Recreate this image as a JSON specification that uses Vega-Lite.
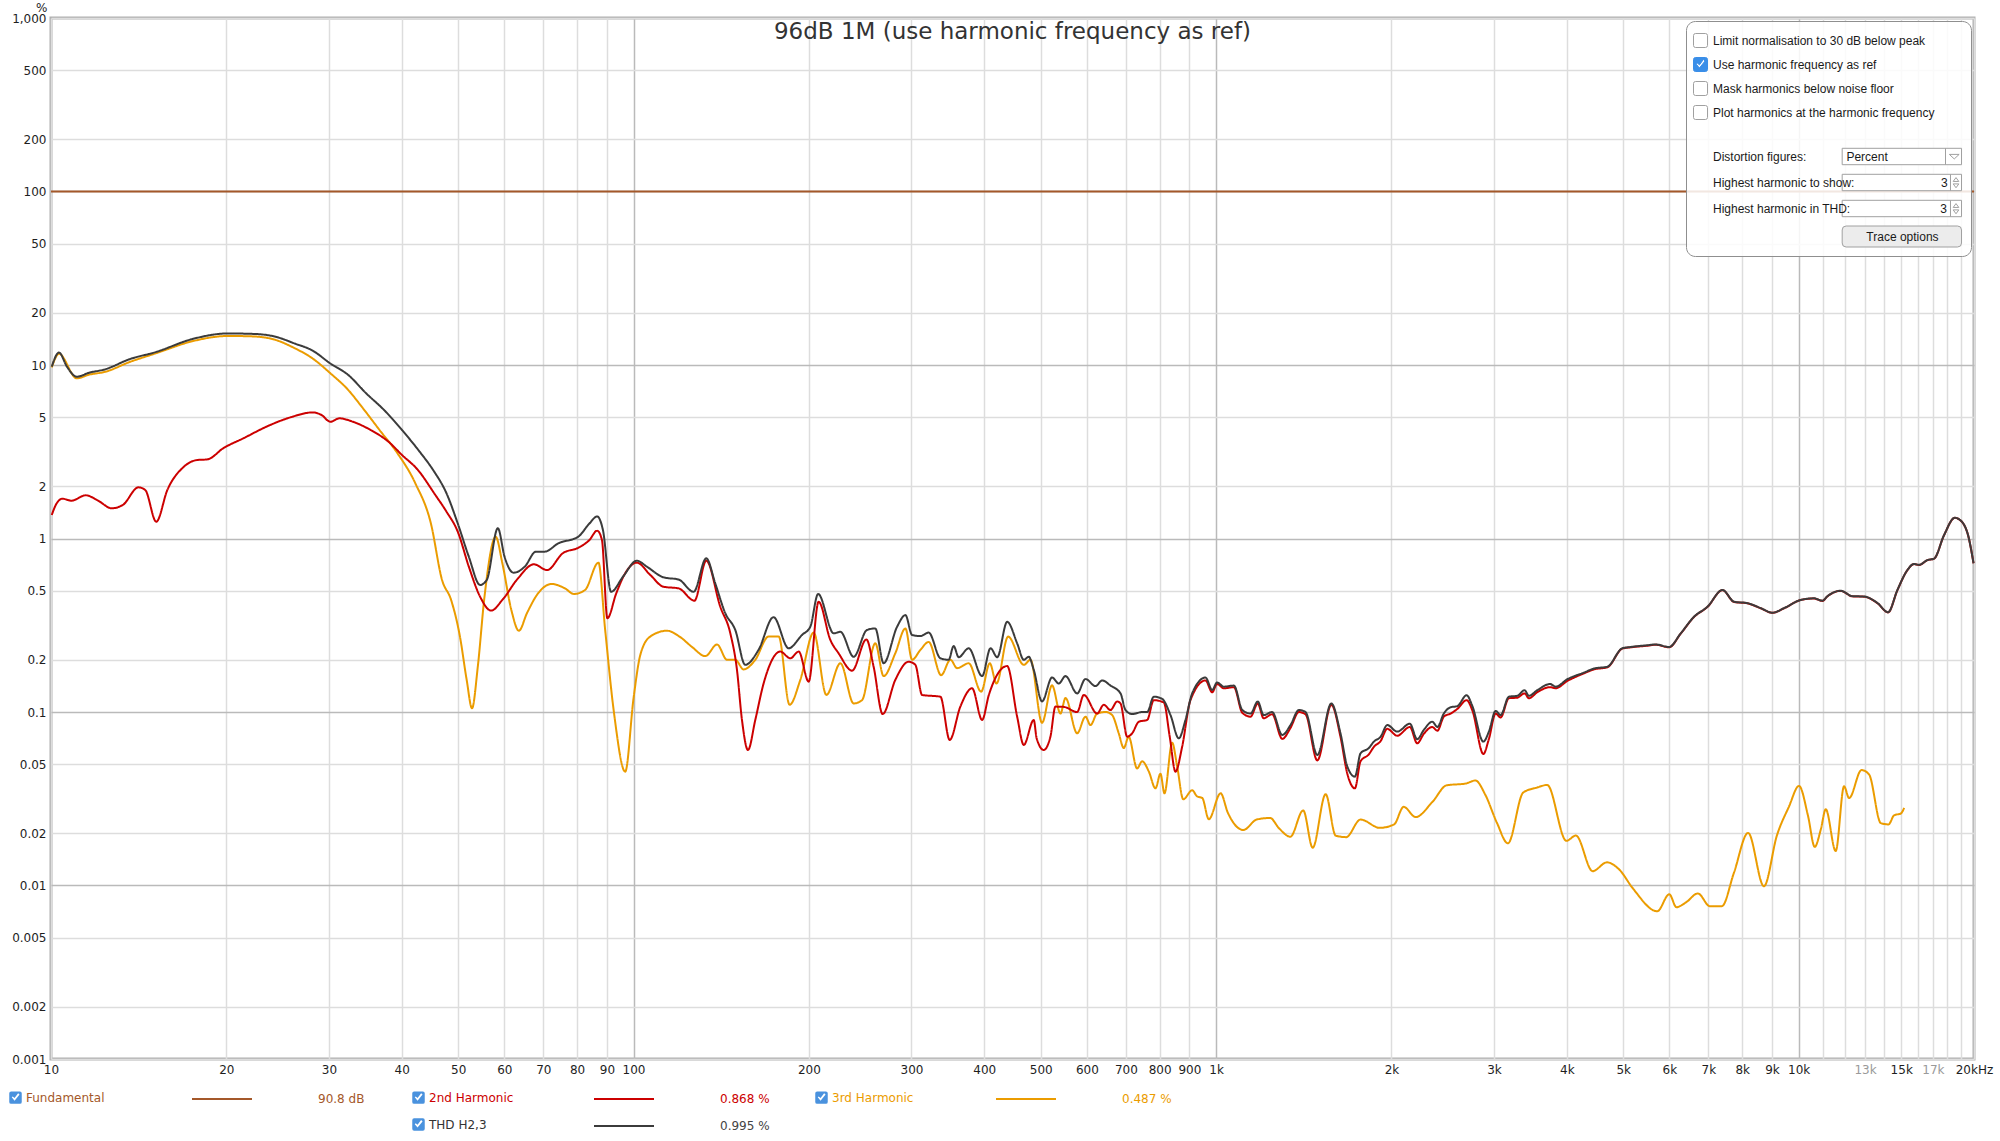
{
"$schema": "https://vega.github.io/schema/vega-lite/v6.json",
"width": 1923, "height": 1041,
"autosize": {"type": "none"},
"padding": {"left": 51, "top": 18, "right": 26, "bottom": 82},
"background": "#ffffff",
"title": {"text": "96dB 1M (use harmonic frequency as ref)", "font": "DejaVu Sans", "fontSize": 23, "fontWeight": "normal", "color": "#333333", "anchor": "middle", "offset": -21, "dy": 40, "baseline": "alphabetic"},
"data": {"values": [
{"series":"Fundamental","hz":10,"pct":100},{"series":"Fundamental","hz":20000,"pct":100},
{"series":"THD","hz":10.03,"pct":9.78},{"series":"THD","hz":10.32,"pct":11.8},{"series":"THD","hz":10.65,"pct":9.78},{"series":"THD","hz":11.07,"pct":8.56},{"series":"THD","hz":11.63,"pct":9.03},{"series":"THD","hz":12.38,"pct":9.44},{"series":"THD","hz":13.64,"pct":10.8},{"series":"THD","hz":15.16,"pct":11.9},{"series":"THD","hz":17.47,"pct":14.1},{"series":"THD","hz":20.12,"pct":15.2},{"series":"THD","hz":22.36,"pct":15.1},{"series":"THD","hz":24.2,"pct":14.6},{"series":"THD","hz":26.2,"pct":13.3},{"series":"THD","hz":28.13,"pct":12.1},{"series":"THD","hz":30.17,"pct":10.2},{"series":"THD","hz":32.39,"pct":8.75},{"series":"THD","hz":34.75,"pct":6.87},{"series":"THD","hz":37.31,"pct":5.5},{"series":"THD","hz":40.04,"pct":4.22},{"series":"THD","hz":42.95,"pct":3.16},{"series":"THD","hz":45.29,"pct":2.48},{"series":"THD","hz":47.75,"pct":1.82},{"series":"THD","hz":49.92,"pct":1.22},{"series":"THD","hz":52.15,"pct":0.785},{"series":"THD","hz":54.52,"pct":0.54},{"series":"THD","hz":55.98,"pct":0.577},{"series":"THD","hz":58.49,"pct":1.146},{"series":"THD","hz":60.06,"pct":0.785},{"series":"THD","hz":62.24,"pct":0.635},{"series":"THD","hz":65.04,"pct":0.688},{"series":"THD","hz":68.0,"pct":0.84},{"series":"THD","hz":70.42,"pct":0.84},{"series":"THD","hz":74.25,"pct":0.937},{"series":"THD","hz":80.4,"pct":1.026},{"series":"THD","hz":84.0,"pct":1.22},{"series":"THD","hz":86.6,"pct":1.34},{"series":"THD","hz":88.6,"pct":1.12},{"series":"THD","hz":91.5,"pct":0.493},{"series":"THD","hz":95.9,"pct":0.602},{"series":"THD","hz":101.3,"pct":0.745},{"series":"THD","hz":105.4,"pct":0.688},{"series":"THD","hz":112.6,"pct":0.597},{"series":"THD","hz":119.5,"pct":0.58},{"series":"THD","hz":126.8,"pct":0.493},{"series":"THD","hz":133.3,"pct":0.769},{"series":"THD","hz":138.1,"pct":0.552},{"series":"THD","hz":143.7,"pct":0.371},{"series":"THD","hz":149.5,"pct":0.297},{"series":"THD","hz":155.5,"pct":0.187},{"series":"THD","hz":163.9,"pct":0.228},{"series":"THD","hz":173.9,"pct":0.352},{"series":"THD","hz":184.6,"pct":0.233},{"series":"THD","hz":194.6,"pct":0.278},{"series":"THD","hz":201.1,"pct":0.31},{"series":"THD","hz":207.4,"pct":0.479},{"series":"THD","hz":220.6,"pct":0.284},{"series":"THD","hz":226.5,"pct":0.29},{"series":"THD","hz":238.7,"pct":0.208},{"series":"THD","hz":251.6,"pct":0.297},{"series":"THD","hz":260.0,"pct":0.303},{"series":"THD","hz":268.7,"pct":0.191},{"series":"THD","hz":283.4,"pct":0.31},{"series":"THD","hz":292.9,"pct":0.362},{"series":"THD","hz":300.7,"pct":0.278},{"series":"THD","hz":310.8,"pct":0.274},{"series":"THD","hz":321.1,"pct":0.287},{"series":"THD","hz":336.3,"pct":0.204},{"series":"THD","hz":347.5,"pct":0.2},{"series":"THD","hz":354.4,"pct":0.24},{"series":"THD","hz":361.5,"pct":0.207},{"series":"THD","hz":376.1,"pct":0.233},{"series":"THD","hz":396.6,"pct":0.161},{"series":"THD","hz":410.0,"pct":0.233},{"series":"THD","hz":421.0,"pct":0.207},{"series":"THD","hz":437.9,"pct":0.331},{"series":"THD","hz":455.5,"pct":0.249},{"series":"THD","hz":467.6,"pct":0.2},{"series":"THD","hz":476.9,"pct":0.208},{"series":"THD","hz":486.4,"pct":0.175},{"series":"THD","hz":502.6,"pct":0.115},{"series":"THD","hz":522.9,"pct":0.158},{"series":"THD","hz":537.0,"pct":0.146},{"series":"THD","hz":551.4,"pct":0.161},{"series":"THD","hz":577.5,"pct":0.128},{"series":"THD","hz":596.7,"pct":0.155},{"series":"THD","hz":620.8,"pct":0.141},{"series":"THD","hz":637.5,"pct":0.152},{"series":"THD","hz":658.8,"pct":0.142},{"series":"THD","hz":685.4,"pct":0.128},{"series":"THD","hz":699.0,"pct":0.1027},{"series":"THD","hz":717.7,"pct":0.0973},{"series":"THD","hz":746.7,"pct":0.1},{"series":"THD","hz":761.6,"pct":0.1},{"series":"THD","hz":781.7,"pct":0.1225},{"series":"THD","hz":808.1,"pct":0.119},{"series":"THD","hz":835.1,"pct":0.096},{"series":"THD","hz":862.9,"pct":0.0705},{"series":"THD","hz":886.0,"pct":0.09},{"series":"THD","hz":909.8,"pct":0.128},{"series":"THD","hz":959.0,"pct":0.158},{"series":"THD","hz":984.7,"pct":0.134},{"series":"THD","hz":1004,"pct":0.148},{"series":"THD","hz":1031,"pct":0.14},{"series":"THD","hz":1073,"pct":0.142},{"series":"THD","hz":1109,"pct":0.1027},{"series":"THD","hz":1146,"pct":0.098},{"series":"THD","hz":1179,"pct":0.115},{"series":"THD","hz":1207,"pct":0.096},{"series":"THD","hz":1248,"pct":0.1},{"series":"THD","hz":1299,"pct":0.0737},{"series":"THD","hz":1342,"pct":0.0841},{"series":"THD","hz":1387,"pct":0.1027},{"series":"THD","hz":1424,"pct":0.1},{"series":"THD","hz":1492,"pct":0.0565},{"series":"THD","hz":1577,"pct":0.112},{"series":"THD","hz":1635,"pct":0.0754},{"series":"THD","hz":1680,"pct":0.0484},{"series":"THD","hz":1731,"pct":0.0424},{"series":"THD","hz":1770,"pct":0.0578},{"series":"THD","hz":1829,"pct":0.062},{"series":"THD","hz":1866,"pct":0.0675},{"series":"THD","hz":1916,"pct":0.072},{"series":"THD","hz":1967,"pct":0.0841},{"series":"THD","hz":2046,"pct":0.0771},{"series":"THD","hz":2151,"pct":0.0856},{"series":"THD","hz":2214,"pct":0.0697},{"series":"THD","hz":2274,"pct":0.079},{"series":"THD","hz":2350,"pct":0.0879},{"series":"THD","hz":2398,"pct":0.082},{"series":"THD","hz":2460,"pct":0.098},{"series":"THD","hz":2527,"pct":0.1065},{"series":"THD","hz":2594,"pct":0.108},{"series":"THD","hz":2692,"pct":0.125},{"series":"THD","hz":2754,"pct":0.108},{"series":"THD","hz":2876,"pct":0.0675},{"series":"THD","hz":2940,"pct":0.0771},{"series":"THD","hz":3019,"pct":0.1015},{"series":"THD","hz":3079,"pct":0.096},{"series":"THD","hz":3181,"pct":0.1225},{"series":"THD","hz":3289,"pct":0.124},{"series":"THD","hz":3385,"pct":0.1335},{"series":"THD","hz":3443,"pct":0.124},{"series":"THD","hz":3559,"pct":0.1335},{"series":"THD","hz":3743,"pct":0.145},{"series":"THD","hz":3828,"pct":0.14},{"series":"THD","hz":4009,"pct":0.1545},{"series":"THD","hz":4280,"pct":0.1687},{"series":"THD","hz":4453,"pct":0.178},{"series":"THD","hz":4695,"pct":0.1825},{"series":"THD","hz":4982,"pct":0.233},{"series":"THD","hz":5148,"pct":0.237},{"series":"THD","hz":5499,"pct":0.2425},{"series":"THD","hz":5683,"pct":0.245},{"series":"THD","hz":5991,"pct":0.237},{"series":"THD","hz":6275,"pct":0.284},{"series":"THD","hz":6614,"pct":0.354},{"series":"THD","hz":6973,"pct":0.404},{"series":"THD","hz":7401,"pct":0.505},{"series":"THD","hz":7748,"pct":0.432},{"series":"THD","hz":8170,"pct":0.424},{"series":"THD","hz":8608,"pct":0.397},{"series":"THD","hz":9016,"pct":0.3735},{"series":"THD","hz":9439,"pct":0.397},{"series":"THD","hz":10080,"pct":0.4425},{"series":"THD","hz":10627,"pct":0.452},{"series":"THD","hz":10985,"pct":0.438},{"series":"THD","hz":11205,"pct":0.465},{"series":"THD","hz":11808,"pct":0.5},{"series":"THD","hz":12370,"pct":0.465},{"series":"THD","hz":12950,"pct":0.463},{"series":"THD","hz":13653,"pct":0.425},{"series":"THD","hz":14239,"pct":0.376},{"series":"THD","hz":14777,"pct":0.505},{"series":"THD","hz":15371,"pct":0.658},{"series":"THD","hz":15780,"pct":0.713},{"series":"THD","hz":16096,"pct":0.705},{"series":"THD","hz":16638,"pct":0.751},{"series":"THD","hz":17080,"pct":0.766},{"series":"THD","hz":17770,"pct":1.047},{"series":"THD","hz":18540,"pct":1.317},{"series":"THD","hz":18855,"pct":1.29},{"series":"THD","hz":19495,"pct":1.072},{"series":"THD","hz":19963,"pct":0.72},
{"series":"2nd Harmonic","hz":10.03,"pct":1.366},{"series":"2nd Harmonic","hz":10.19,"pct":1.56},{"series":"2nd Harmonic","hz":10.46,"pct":1.696},{"series":"2nd Harmonic","hz":10.84,"pct":1.652},{"series":"2nd Harmonic","hz":11.47,"pct":1.774},{"series":"2nd Harmonic","hz":12.05,"pct":1.652},{"series":"2nd Harmonic","hz":12.71,"pct":1.493},{"series":"2nd Harmonic","hz":13.28,"pct":1.56},{"series":"2nd Harmonic","hz":14.13,"pct":1.972},{"series":"2nd Harmonic","hz":14.51,"pct":1.905},{"series":"2nd Harmonic","hz":15.16,"pct":1.25},{"series":"2nd Harmonic","hz":15.84,"pct":1.905},{"series":"2nd Harmonic","hz":16.86,"pct":2.57},{"series":"2nd Harmonic","hz":17.77,"pct":2.83},{"series":"2nd Harmonic","hz":18.57,"pct":2.86},{"series":"2nd Harmonic","hz":19.75,"pct":3.31},{"series":"2nd Harmonic","hz":21.39,"pct":3.78},{"series":"2nd Harmonic","hz":23.57,"pct":4.45},{"series":"2nd Harmonic","hz":25.75,"pct":4.99},{"series":"2nd Harmonic","hz":28.13,"pct":5.33},{"series":"2nd Harmonic","hz":29.13,"pct":5.15},{"series":"2nd Harmonic","hz":30.17,"pct":4.71},{"series":"2nd Harmonic","hz":31.26,"pct":4.93},{"series":"2nd Harmonic","hz":32.97,"pct":4.71},{"series":"2nd Harmonic","hz":35.38,"pct":4.22},{"series":"2nd Harmonic","hz":37.97,"pct":3.61},{"series":"2nd Harmonic","hz":40.04,"pct":3.03},{"series":"2nd Harmonic","hz":42.57,"pct":2.5},{"series":"2nd Harmonic","hz":45.69,"pct":1.78},{"series":"2nd Harmonic","hz":47.75,"pct":1.427},{"series":"2nd Harmonic","hz":49.92,"pct":1.094},{"series":"2nd Harmonic","hz":52.15,"pct":0.688},{"series":"2nd Harmonic","hz":54.52,"pct":0.462},{"series":"2nd Harmonic","hz":56.96,"pct":0.384},{"series":"2nd Harmonic","hz":59.54,"pct":0.4425},{"series":"2nd Harmonic","hz":63.35,"pct":0.59},{"series":"2nd Harmonic","hz":67.42,"pct":0.71},{"series":"2nd Harmonic","hz":71.06,"pct":0.658},{"series":"2nd Harmonic","hz":75.59,"pct":0.822},{"series":"2nd Harmonic","hz":80.4,"pct":0.885},{"series":"2nd Harmonic","hz":84.0,"pct":0.98},{"series":"2nd Harmonic","hz":86.6,"pct":1.11},{"series":"2nd Harmonic","hz":88.26,"pct":0.98},{"series":"2nd Harmonic","hz":90.16,"pct":0.347},{"series":"2nd Harmonic","hz":93.39,"pct":0.483},{"series":"2nd Harmonic","hz":96.76,"pct":0.631},{"series":"2nd Harmonic","hz":101.3,"pct":0.726},{"series":"2nd Harmonic","hz":106.8,"pct":0.617},{"series":"2nd Harmonic","hz":112.6,"pct":0.527},{"series":"2nd Harmonic","hz":119.5,"pct":0.516},{"series":"2nd Harmonic","hz":127.2,"pct":0.438},{"series":"2nd Harmonic","hz":133.3,"pct":0.745},{"series":"2nd Harmonic","hz":140.9,"pct":0.404},{"series":"2nd Harmonic","hz":146.6,"pct":0.284},{"series":"2nd Harmonic","hz":150.5,"pct":0.175},{"series":"2nd Harmonic","hz":153.5,"pct":0.09},{"series":"2nd Harmonic","hz":157.2,"pct":0.0604},{"series":"2nd Harmonic","hz":161.8,"pct":0.09},{"series":"2nd Harmonic","hz":167.2,"pct":0.146},{"series":"2nd Harmonic","hz":178.6,"pct":0.223},{"series":"2nd Harmonic","hz":185.8,"pct":0.204},{"series":"2nd Harmonic","hz":192.1,"pct":0.223},{"series":"2nd Harmonic","hz":199.8,"pct":0.1496},{"series":"2nd Harmonic","hz":207.8,"pct":0.432},{"series":"2nd Harmonic","hz":217.7,"pct":0.26},{"series":"2nd Harmonic","hz":224.9,"pct":0.218},{"series":"2nd Harmonic","hz":237.2,"pct":0.173},{"series":"2nd Harmonic","hz":251.0,"pct":0.262},{"series":"2nd Harmonic","hz":258.3,"pct":0.1824},{"series":"2nd Harmonic","hz":267.7,"pct":0.0973},{"series":"2nd Harmonic","hz":281.4,"pct":0.153},{"series":"2nd Harmonic","hz":296.6,"pct":0.195},{"series":"2nd Harmonic","hz":304.6,"pct":0.187},{"series":"2nd Harmonic","hz":312.8,"pct":0.1254},{"series":"2nd Harmonic","hz":336.3,"pct":0.1225},{"series":"2nd Harmonic","hz":348.9,"pct":0.069},{"series":"2nd Harmonic","hz":363.9,"pct":0.1074},{"series":"2nd Harmonic","hz":381.2,"pct":0.137},{"series":"2nd Harmonic","hz":396.6,"pct":0.09},{"series":"2nd Harmonic","hz":407.3,"pct":0.1254},{"series":"2nd Harmonic","hz":437.9,"pct":0.184},{"series":"2nd Harmonic","hz":455.5,"pct":0.094},{"series":"2nd Harmonic","hz":467.6,"pct":0.0646},{"series":"2nd Harmonic","hz":486.4,"pct":0.09},{"series":"2nd Harmonic","hz":492.0,"pct":0.0705},{"series":"2nd Harmonic","hz":505.9,"pct":0.0604},{"series":"2nd Harmonic","hz":519.5,"pct":0.072},{"series":"2nd Harmonic","hz":529.9,"pct":0.1074},{"series":"2nd Harmonic","hz":547.7,"pct":0.107},{"series":"2nd Harmonic","hz":577.5,"pct":0.1},{"series":"2nd Harmonic","hz":592.8,"pct":0.1254},{"series":"2nd Harmonic","hz":624.9,"pct":0.098},{"series":"2nd Harmonic","hz":641.5,"pct":0.11},{"series":"2nd Harmonic","hz":658.8,"pct":0.1027},{"series":"2nd Harmonic","hz":676.5,"pct":0.115},{"series":"2nd Harmonic","hz":685.4,"pct":0.112},{"series":"2nd Harmonic","hz":703.7,"pct":0.072},{"series":"2nd Harmonic","hz":717.7,"pct":0.0754},{"series":"2nd Harmonic","hz":736.9,"pct":0.0879},{"series":"2nd Harmonic","hz":761.6,"pct":0.09},{"series":"2nd Harmonic","hz":781.7,"pct":0.117},{"series":"2nd Harmonic","hz":813.3,"pct":0.1135},{"series":"2nd Harmonic","hz":832.6,"pct":0.072},{"series":"2nd Harmonic","hz":851.6,"pct":0.0453},{"series":"2nd Harmonic","hz":874.4,"pct":0.063},{"series":"2nd Harmonic","hz":903.6,"pct":0.117},{"series":"2nd Harmonic","hz":959,"pct":0.152},{"series":"2nd Harmonic","hz":984.7,"pct":0.13},{"series":"2nd Harmonic","hz":1004,"pct":0.145},{"series":"2nd Harmonic","hz":1031,"pct":0.137},{"series":"2nd Harmonic","hz":1073,"pct":0.139},{"series":"2nd Harmonic","hz":1109,"pct":0.099},{"series":"2nd Harmonic","hz":1146,"pct":0.094},{"series":"2nd Harmonic","hz":1179,"pct":0.112},{"series":"2nd Harmonic","hz":1207,"pct":0.092},{"series":"2nd Harmonic","hz":1248,"pct":0.097},{"series":"2nd Harmonic","hz":1299,"pct":0.07},{"series":"2nd Harmonic","hz":1342,"pct":0.081},{"series":"2nd Harmonic","hz":1387,"pct":0.1},{"series":"2nd Harmonic","hz":1424,"pct":0.097},{"series":"2nd Harmonic","hz":1492,"pct":0.0526},{"series":"2nd Harmonic","hz":1577,"pct":0.11},{"series":"2nd Harmonic","hz":1635,"pct":0.072},{"series":"2nd Harmonic","hz":1680,"pct":0.044},{"series":"2nd Harmonic","hz":1731,"pct":0.0363},{"series":"2nd Harmonic","hz":1770,"pct":0.052},{"series":"2nd Harmonic","hz":1829,"pct":0.057},{"series":"2nd Harmonic","hz":1866,"pct":0.063},{"series":"2nd Harmonic","hz":1916,"pct":0.068},{"series":"2nd Harmonic","hz":1967,"pct":0.08},{"series":"2nd Harmonic","hz":2046,"pct":0.073},{"series":"2nd Harmonic","hz":2151,"pct":0.082},{"series":"2nd Harmonic","hz":2214,"pct":0.066},{"series":"2nd Harmonic","hz":2274,"pct":0.075},{"series":"2nd Harmonic","hz":2350,"pct":0.082},{"series":"2nd Harmonic","hz":2398,"pct":0.078},{"series":"2nd Harmonic","hz":2460,"pct":0.094},{"series":"2nd Harmonic","hz":2527,"pct":0.098},{"series":"2nd Harmonic","hz":2594,"pct":0.104},{"series":"2nd Harmonic","hz":2692,"pct":0.117},{"series":"2nd Harmonic","hz":2754,"pct":0.102},{"series":"2nd Harmonic","hz":2876,"pct":0.0573},{"series":"2nd Harmonic","hz":2940,"pct":0.07},{"series":"2nd Harmonic","hz":3019,"pct":0.098},{"series":"2nd Harmonic","hz":3079,"pct":0.093},{"series":"2nd Harmonic","hz":3181,"pct":0.12},{"series":"2nd Harmonic","hz":3289,"pct":0.121},{"series":"2nd Harmonic","hz":3385,"pct":0.128},{"series":"2nd Harmonic","hz":3443,"pct":0.12},{"series":"2nd Harmonic","hz":3559,"pct":0.13},{"series":"2nd Harmonic","hz":3743,"pct":0.139},{"series":"2nd Harmonic","hz":3828,"pct":0.137},{"series":"2nd Harmonic","hz":4009,"pct":0.151},{"series":"2nd Harmonic","hz":4280,"pct":0.167},{"series":"2nd Harmonic","hz":4453,"pct":0.176},{"series":"2nd Harmonic","hz":4695,"pct":0.181},{"series":"2nd Harmonic","hz":4982,"pct":0.232},{"series":"2nd Harmonic","hz":5148,"pct":0.236},{"series":"2nd Harmonic","hz":5499,"pct":0.241},{"series":"2nd Harmonic","hz":5683,"pct":0.244},{"series":"2nd Harmonic","hz":5991,"pct":0.236},{"series":"2nd Harmonic","hz":6275,"pct":0.283},{"series":"2nd Harmonic","hz":6614,"pct":0.353},{"series":"2nd Harmonic","hz":6973,"pct":0.403},{"series":"2nd Harmonic","hz":7401,"pct":0.504},{"series":"2nd Harmonic","hz":7748,"pct":0.431},{"series":"2nd Harmonic","hz":8170,"pct":0.423},{"series":"2nd Harmonic","hz":8608,"pct":0.396},{"series":"2nd Harmonic","hz":9016,"pct":0.373},{"series":"2nd Harmonic","hz":9439,"pct":0.396},{"series":"2nd Harmonic","hz":10080,"pct":0.442},{"series":"2nd Harmonic","hz":10627,"pct":0.451},{"series":"2nd Harmonic","hz":10985,"pct":0.437},{"series":"2nd Harmonic","hz":11205,"pct":0.464},{"series":"2nd Harmonic","hz":11808,"pct":0.499},{"series":"2nd Harmonic","hz":12370,"pct":0.464},{"series":"2nd Harmonic","hz":12950,"pct":0.462},{"series":"2nd Harmonic","hz":13653,"pct":0.424},{"series":"2nd Harmonic","hz":14239,"pct":0.375},{"series":"2nd Harmonic","hz":14777,"pct":0.504},{"series":"2nd Harmonic","hz":15371,"pct":0.657},{"series":"2nd Harmonic","hz":15780,"pct":0.712},{"series":"2nd Harmonic","hz":16096,"pct":0.704},{"series":"2nd Harmonic","hz":16638,"pct":0.75},{"series":"2nd Harmonic","hz":17080,"pct":0.765},{"series":"2nd Harmonic","hz":17770,"pct":1.046},{"series":"2nd Harmonic","hz":18540,"pct":1.316},{"series":"2nd Harmonic","hz":18855,"pct":1.289},{"series":"2nd Harmonic","hz":19495,"pct":1.071},{"series":"2nd Harmonic","hz":19963,"pct":0.72},
{"series":"3rd Harmonic","hz":10.03,"pct":9.7},{"series":"3rd Harmonic","hz":10.32,"pct":11.6},{"series":"3rd Harmonic","hz":11.07,"pct":8.38},{"series":"3rd Harmonic","hz":11.63,"pct":8.8},{"series":"3rd Harmonic","hz":12.38,"pct":9.13},{"series":"3rd Harmonic","hz":13.64,"pct":10.4},{"series":"3rd Harmonic","hz":15.16,"pct":11.7},{"series":"3rd Harmonic","hz":17.47,"pct":13.7},{"series":"3rd Harmonic","hz":20.12,"pct":14.7},{"series":"3rd Harmonic","hz":22.36,"pct":14.6},{"series":"3rd Harmonic","hz":24.2,"pct":14.0},{"series":"3rd Harmonic","hz":26.2,"pct":12.5},{"series":"3rd Harmonic","hz":28.13,"pct":10.9},{"series":"3rd Harmonic","hz":30.17,"pct":8.96},{"series":"3rd Harmonic","hz":32.39,"pct":7.17},{"series":"3rd Harmonic","hz":34.15,"pct":5.75},{"series":"3rd Harmonic","hz":36.64,"pct":4.22},{"series":"3rd Harmonic","hz":39.33,"pct":3.1},{"series":"3rd Harmonic","hz":42.21,"pct":2.08},{"series":"3rd Harmonic","hz":44.89,"pct":1.22},{"series":"3rd Harmonic","hz":46.91,"pct":0.577},{"series":"3rd Harmonic","hz":48.62,"pct":0.4425},{"series":"3rd Harmonic","hz":50.35,"pct":0.272},{"series":"3rd Harmonic","hz":51.71,"pct":0.153},{"series":"3rd Harmonic","hz":52.81,"pct":0.105},{"series":"3rd Harmonic","hz":54.03,"pct":0.1824},{"series":"3rd Harmonic","hz":55.48,"pct":0.462},{"series":"3rd Harmonic","hz":58.0,"pct":1.023},{"series":"3rd Harmonic","hz":59.54,"pct":0.72},{"series":"3rd Harmonic","hz":61.69,"pct":0.3873},{"series":"3rd Harmonic","hz":63.55,"pct":0.294},{"series":"3rd Harmonic","hz":65.61,"pct":0.371},{"series":"3rd Harmonic","hz":68.57,"pct":0.483},{"series":"3rd Harmonic","hz":72.31,"pct":0.547},{"series":"3rd Harmonic","hz":76.25,"pct":0.516},{"series":"3rd Harmonic","hz":78.98,"pct":0.479},{"series":"3rd Harmonic","hz":82.55,"pct":0.505},{"series":"3rd Harmonic","hz":87.05,"pct":0.726},{"series":"3rd Harmonic","hz":89.39,"pct":0.297},{"series":"3rd Harmonic","hz":92.58,"pct":0.0984},{"series":"3rd Harmonic","hz":96.76,"pct":0.0453},{"series":"3rd Harmonic","hz":100.0,"pct":0.12},{"series":"3rd Harmonic","hz":102.7,"pct":0.213},{"series":"3rd Harmonic","hz":106.8,"pct":0.272},{"series":"3rd Harmonic","hz":114.1,"pct":0.294},{"series":"3rd Harmonic","hz":120.3,"pct":0.27},{"series":"3rd Harmonic","hz":126.0,"pct":0.237},{"series":"3rd Harmonic","hz":132.8,"pct":0.21},{"series":"3rd Harmonic","hz":139.1,"pct":0.245},{"series":"3rd Harmonic","hz":144.7,"pct":0.2},{"series":"3rd Harmonic","hz":149.5,"pct":0.2},{"series":"3rd Harmonic","hz":154.5,"pct":0.176},{"series":"3rd Harmonic","hz":161.8,"pct":0.2},{"series":"3rd Harmonic","hz":170.5,"pct":0.272},{"series":"3rd Harmonic","hz":177.5,"pct":0.272},{"series":"3rd Harmonic","hz":185.3,"pct":0.11},{"series":"3rd Harmonic","hz":193.3,"pct":0.153},{"series":"3rd Harmonic","hz":203.8,"pct":0.287},{"series":"3rd Harmonic","hz":214.3,"pct":0.1254},{"series":"3rd Harmonic","hz":226.5,"pct":0.191},{"series":"3rd Harmonic","hz":238.7,"pct":0.112},{"series":"3rd Harmonic","hz":246.7,"pct":0.117},{"series":"3rd Harmonic","hz":260.0,"pct":0.249},{"series":"3rd Harmonic","hz":268.7,"pct":0.161},{"series":"3rd Harmonic","hz":281.4,"pct":0.218},{"series":"3rd Harmonic","hz":292.9,"pct":0.303},{"series":"3rd Harmonic","hz":300.7,"pct":0.2},{"series":"3rd Harmonic","hz":310.8,"pct":0.228},{"series":"3rd Harmonic","hz":321.1,"pct":0.2535},{"series":"3rd Harmonic","hz":337.3,"pct":0.163},{"series":"3rd Harmonic","hz":349.9,"pct":0.2},{"series":"3rd Harmonic","hz":359.3,"pct":0.179},{"series":"3rd Harmonic","hz":376.1,"pct":0.191},{"series":"3rd Harmonic","hz":395.1,"pct":0.131},{"series":"3rd Harmonic","hz":408.8,"pct":0.191},{"series":"3rd Harmonic","hz":419.8,"pct":0.146},{"series":"3rd Harmonic","hz":439.5,"pct":0.272},{"series":"3rd Harmonic","hz":467.6,"pct":0.187},{"series":"3rd Harmonic","hz":480.2,"pct":0.2},{"series":"3rd Harmonic","hz":502.6,"pct":0.0867},{"series":"3rd Harmonic","hz":522.9,"pct":0.1425},{"series":"3rd Harmonic","hz":540.6,"pct":0.098},{"series":"3rd Harmonic","hz":551.4,"pct":0.1204},{"series":"3rd Harmonic","hz":577.5,"pct":0.0754},{"series":"3rd Harmonic","hz":596.7,"pct":0.094},{"series":"3rd Harmonic","hz":608.6,"pct":0.0841},{"series":"3rd Harmonic","hz":624.9,"pct":0.098},{"series":"3rd Harmonic","hz":646.8,"pct":0.1},{"series":"3rd Harmonic","hz":663.1,"pct":0.096},{"series":"3rd Harmonic","hz":680.6,"pct":0.0754},{"series":"3rd Harmonic","hz":694.3,"pct":0.062},{"series":"3rd Harmonic","hz":707.9,"pct":0.072},{"series":"3rd Harmonic","hz":731.8,"pct":0.0473},{"series":"3rd Harmonic","hz":746.7,"pct":0.052},{"series":"3rd Harmonic","hz":766.3,"pct":0.0455},{"series":"3rd Harmonic","hz":787.0,"pct":0.0363},{"series":"3rd Harmonic","hz":802.6,"pct":0.0441},{"series":"3rd Harmonic","hz":815.4,"pct":0.034},{"series":"3rd Harmonic","hz":840.6,"pct":0.0665},{"series":"3rd Harmonic","hz":857.5,"pct":0.0484},{"series":"3rd Harmonic","hz":878.3,"pct":0.0314},{"series":"3rd Harmonic","hz":909.8,"pct":0.0354},{"series":"3rd Harmonic","hz":928.0,"pct":0.0326},{"series":"3rd Harmonic","hz":946.5,"pct":0.032},{"series":"3rd Harmonic","hz":971.6,"pct":0.0241},{"series":"3rd Harmonic","hz":1018,"pct":0.034},{"series":"3rd Harmonic","hz":1047,"pct":0.0264},{"series":"3rd Harmonic","hz":1114,"pct":0.0209},{"series":"3rd Harmonic","hz":1174,"pct":0.024},{"series":"3rd Harmonic","hz":1238,"pct":0.0245},{"series":"3rd Harmonic","hz":1282,"pct":0.0214},{"series":"3rd Harmonic","hz":1341,"pct":0.0191},{"series":"3rd Harmonic","hz":1411,"pct":0.0271},{"series":"3rd Harmonic","hz":1465,"pct":0.0165},{"series":"3rd Harmonic","hz":1542,"pct":0.0336},{"series":"3rd Harmonic","hz":1604,"pct":0.0194},{"series":"3rd Harmonic","hz":1672,"pct":0.019},{"series":"3rd Harmonic","hz":1770,"pct":0.024},{"series":"3rd Harmonic","hz":1909,"pct":0.0215},{"series":"3rd Harmonic","hz":2021,"pct":0.0225},{"series":"3rd Harmonic","hz":2099,"pct":0.0284},{"series":"3rd Harmonic","hz":2200,"pct":0.0248},{"series":"3rd Harmonic","hz":2351,"pct":0.0303},{"series":"3rd Harmonic","hz":2488,"pct":0.0378},{"series":"3rd Harmonic","hz":2683,"pct":0.0387},{"series":"3rd Harmonic","hz":2787,"pct":0.0403},{"series":"3rd Harmonic","hz":2895,"pct":0.0336},{"series":"3rd Harmonic","hz":3034,"pct":0.023},{"series":"3rd Harmonic","hz":3169,"pct":0.0175},{"series":"3rd Harmonic","hz":3366,"pct":0.0343},{"series":"3rd Harmonic","hz":3564,"pct":0.0368},{"series":"3rd Harmonic","hz":3701,"pct":0.038},{"series":"3rd Harmonic","hz":3993,"pct":0.0181},{"series":"3rd Harmonic","hz":4146,"pct":0.0194},{"series":"3rd Harmonic","hz":4430,"pct":0.0121},{"series":"3rd Harmonic","hz":4688,"pct":0.0136},{"series":"3rd Harmonic","hz":4916,"pct":0.0124},{"series":"3rd Harmonic","hz":5201,"pct":0.00956},{"series":"3rd Harmonic","hz":5718,"pct":0.0071},{"series":"3rd Harmonic","hz":5997,"pct":0.0089},{"series":"3rd Harmonic","hz":6169,"pct":0.0075},{"series":"3rd Harmonic","hz":6409,"pct":0.008},{"series":"3rd Harmonic","hz":6714,"pct":0.009},{"series":"3rd Harmonic","hz":7042,"pct":0.0076},{"series":"3rd Harmonic","hz":7382,"pct":0.0076},{"series":"3rd Harmonic","hz":7741,"pct":0.0118},{"series":"3rd Harmonic","hz":8190,"pct":0.0201},{"series":"3rd Harmonic","hz":8718,"pct":0.0099},{"series":"3rd Harmonic","hz":9176,"pct":0.0194},{"series":"3rd Harmonic","hz":9621,"pct":0.0284},{"series":"3rd Harmonic","hz":10016,"pct":0.0375},{"series":"3rd Harmonic","hz":10375,"pct":0.0253},{"series":"3rd Harmonic","hz":10658,"pct":0.0167},{"series":"3rd Harmonic","hz":10914,"pct":0.021},{"series":"3rd Harmonic","hz":11132,"pct":0.0275},{"series":"3rd Harmonic","hz":11578,"pct":0.0158},{"series":"3rd Harmonic","hz":11967,"pct":0.0373},{"series":"3rd Harmonic","hz":12207,"pct":0.0319},{"series":"3rd Harmonic","hz":12823,"pct":0.0463},{"series":"3rd Harmonic","hz":13212,"pct":0.0436},{"series":"3rd Harmonic","hz":13836,"pct":0.0229},{"series":"3rd Harmonic","hz":14266,"pct":0.0225},{"series":"3rd Harmonic","hz":14585,"pct":0.0254},{"series":"3rd Harmonic","hz":14977,"pct":0.026},{"series":"3rd Harmonic","hz":15175,"pct":0.028}
]},
"layer": [
{
"encoding": {
"x": {"field": "hz", "type": "quantitative", "scale": {"type": "log", "domain": [10, 20000], "nice": false},
 "axis": {"values": [10,20,30,40,50,60,70,80,90,100,200,300,400,500,600,700,800,900,1000,2000,3000,4000,5000,6000,7000,8000,9000,10000,11000,12000,13000,14000,15000,16000,17000,18000,19000,20000],
  "labelExpr": "datum.value >= 20000 ? '20kHz' : datum.value >= 1000 ? ((datum.value == 11000 || datum.value == 12000 || datum.value == 14000 || datum.value == 16000 || datum.value == 18000 || datum.value == 19000) ? '' : (datum.value / 1000) + 'k') : '' + datum.value",
  "labelPadding": 5, "title": null,
  "labelColor": {"condition": {"test": "datum.value == 13000 || datum.value == 17000", "value": "#9a9a9a"}, "value": "#1e1e1e"},
  "gridColor": {"condition": {"test": "datum.value == 100 || datum.value == 1000 || datum.value == 10000", "value": "#bababa"}, "value": "#dddddd"}}},
"y": {"field": "pct", "type": "quantitative", "scale": {"type": "log", "domain": [0.001, 1000], "nice": false},
 "axis": {"values": [0.001,0.002,0.005,0.01,0.02,0.05,0.1,0.2,0.5,1,2,5,10,20,50,100,200,500,1000],
  "labelExpr": "format(datum.value, ',')", "labelPadding": 5,
  "title": "%", "titleAngle": 0, "titleAlign": "right", "titleBaseline": "middle", "titleX": -4, "titleY": -11, "titleFont": "DejaVu Sans", "titleFontSize": 12, "titleFontWeight": "normal", "titleColor": "#1e1e1e",
  "gridColor": {"condition": {"test": "datum.value == 0.01 || datum.value == 0.1 || datum.value == 1 || datum.value == 10 || datum.value == 100", "value": "#bababa"}, "value": "#dddddd"}}},
"color": {"field": "series", "type": "nominal",
 "scale": {"domain": ["Fundamental", "2nd Harmonic", "3rd Harmonic", " ", "THD"], "range": ["#a4582a", "#cc0000", "#eb9c00", "#ffffff", "#3b3b3b"]},
 "legend": {"orient": "none", "legendX": 140, "legendY": 1074, "title": null, "direction": "horizontal", "columns": 3, "gridAlign": "all", "columnPadding": 222, "rowPadding": 14, "padding": 0,
  "symbolType": "M-1,0H9", "symbolSize": 144, "symbolStrokeWidth": 2, "symbolFillColor": "transparent", "labelOffset": 113, "labelFont": "DejaVu Sans", "labelFontSize": 12, "labelLimit": 300,
  "labelColor": {"expr": "datum.value == 'THD' ? '#444444' : scale('color', datum.value)"},
  "labelExpr": "datum.label == 'Fundamental' ? '90.8 dB' : datum.label == '2nd Harmonic' ? '0.868 %' : datum.label == '3rd Harmonic' ? '0.487 %' : datum.label == 'THD' ? '0.995 %' : ''"}},
"strokeDash": {"field": "series", "type": "nominal",
 "scale": {"domain": ["Fundamental", "2nd Harmonic", "3rd Harmonic", "  ", "THD"], "range": [[1,0],[1,0],[1,0],[1,0],[1,0]]},
 "legend": {"orient": "none", "legendX": -42, "legendY": 1073, "title": null, "direction": "horizontal", "columns": 3, "gridAlign": "all", "columnPadding": 301, "rowPadding": 14, "padding": 0,
  "symbolType": "M-1,-0.7Q-1,-1 -0.7,-1H0.7Q1,-1 1,-0.7V0.7Q1,1 0.7,1H-0.7Q-1,1 -1,0.7Z M-0.6,-0.05L-0.15,0.5L0.65,-0.5L0.42,-0.72L-0.15,0.05L-0.45,-0.2Z",
  "symbolSize": 156, "symbolStrokeColor": "transparent", "symbolStrokeWidth": 0,
  "symbolFillColor": {"expr": "datum.value == '  ' ? 'transparent' : '#4a92de'"},
  "labelOffset": 4, "labelFont": "DejaVu Sans", "labelFontSize": 12, "labelLimit": 300,
  "labelColor": {"expr": "datum.value == 'THD' ? '#333333' : scale('color', datum.value)"},
  "labelExpr": "datum.label == 'THD' ? 'THD H2,3' : datum.label == '  ' ? '' : datum.label"}}
},
"layer": [
 {"transform": [{"filter": "datum.series == 'Fundamental'"}], "mark": {"type": "line", "strokeWidth": 2}},
 {"transform": [{"filter": "datum.series == '3rd Harmonic'"}], "mark": {"type": "line", "strokeWidth": 2, "interpolate": "monotone"}},
 {"transform": [{"filter": "datum.series == '2nd Harmonic'"}], "mark": {"type": "line", "strokeWidth": 2, "interpolate": "monotone"}},
 {"transform": [{"filter": "datum.series == 'THD'"}], "mark": {"type": "line", "strokeWidth": 2, "interpolate": "monotone"}}
]
},
{
"data": {"values": [
 {"option": "Limit normalisation to 30 dB below peak"},
 {"option": "Use harmonic frequency as ref"},
 {"option": "Mask harmonics below noise floor"},
 {"option": "Plot harmonics at the harmonic frequency"},
 {"option": "Distortion figures:"},
 {"option": "Highest harmonic to show:"},
 {"option": "Highest harmonic in THD:"},
 {"option": "Trace options"}
]},
"mark": {"type": "point", "opacity": 0},
"encoding": {
 "fill": {"field": "option", "type": "nominal", "legend": null},
 "stroke": {"field": "option", "type": "nominal", "legend": null},
 "shape": {"field": "option", "type": "nominal",
  "scale": {"domain": ["Limit normalisation to 30 dB below peak", "Use harmonic frequency as ref", "Mask harmonics below noise floor", "Plot harmonics at the harmonic frequency", " ", "Distortion figures:", "Highest harmonic to show:", "Highest harmonic in THD:", "Trace options"],
   "range": [
    "M-1,-0.7Q-1,-1 -0.7,-1H0.7Q1,-1 1,-0.7V0.7Q1,1 0.7,1H-0.7Q-1,1 -1,0.7Z",
    "M-1,-0.7Q-1,-1 -0.7,-1H0.7Q1,-1 1,-0.7V0.7Q1,1 0.7,1H-0.7Q-1,1 -1,0.7Z M-0.6,-0.05L-0.15,0.5L0.65,-0.5L0.42,-0.72L-0.15,0.05L-0.45,-0.2Z",
    "M-1,-0.7Q-1,-1 -0.7,-1H0.7Q1,-1 1,-0.7V0.7Q1,1 0.7,1H-0.7Q-1,1 -1,0.7Z",
    "M-1,-0.7Q-1,-1 -0.7,-1H0.7Q1,-1 1,-0.7V0.7Q1,1 0.7,1H-0.7Q-1,1 -1,0.7Z",
    "M0,0",
    "M20.24,-1.17H37.29V1.17H20.24Z M35,-1.17V1.17 M35.55,-0.3H36.95L36.25,0.35Z",
    "M20.24,-1.17H37.29V1.17H20.24Z M35.71,-1.17V1.17 M36.1,-0.15L36.5,-0.7L36.9,-0.15Z M36.1,0.2L36.5,0.75L36.9,0.2Z",
    "M20.24,-1.17H37.29V1.17H20.24Z M35.71,-1.17V1.17 M36.1,-0.15L36.5,-0.7L36.9,-0.15Z M36.1,0.2L36.5,0.75L36.9,0.2Z",
    "M20.81,-1.5H36.72Q37.29,-1.5 37.29,-0.93V0.93Q37.29,1.5 36.72,1.5H20.81Q20.24,1.5 20.24,0.93V-0.93Q20.24,-1.5 20.81,-1.5Z"
   ]},
  "legend": {"orient": "top-right", "offset": 3, "title": " ", "titleFontSize": 5, "titlePadding": 0, "padding": 7,
   "fillColor": "rgba(255,255,255,0.86)", "strokeColor": "#8f8f8f", "cornerRadius": 9, "direction": "vertical",
   "symbolSize": 196, "symbolStrokeWidth": 1, "symbolOpacity": 1,
   "symbolFillColor": {"expr": "datum.value == 'Use harmonic frequency as ref' ? '#3a8ee8' : datum.value == 'Trace options' ? '#ececec' : datum.value == ' ' ? 'transparent' : '#ffffff'"},
   "symbolStrokeColor": {"expr": "datum.value == 'Use harmonic frequency as ref' ? '#3a8ee8' : datum.value == ' ' ? 'transparent' : '#a0a0a0'"},
   "labelFont": "Liberation Sans", "labelFontSize": 12, "labelColor": "#1a1a1a", "labelOffset": 5, "rowPadding": 5, "labelLimit": 500,
   "labelExpr": "datum.label == 'Distortion figures:' ? 'Distortion figures:' + pad('', 12, '\u00a0') + 'Percent' : datum.label == 'Highest harmonic to show:' ? 'Highest harmonic to show:' + pad('', 26, '\u00a0') + '3' + pad('', 4, '\u00a0') + '\u200b' : datum.label == 'Highest harmonic in THD:' ? 'Highest harmonic in THD:' + pad('', 27, '\u00a0') + '3' : datum.label == 'Trace options' ? '\u200b' + pad('', 46, '\u00a0') + 'Trace options' : datum.label == ' ' ? '' : datum.label"}}
}
}
],
"config": {
 "view": {"stroke": "#b0b0b0", "strokeWidth": 3},
 "font": "DejaVu Sans",
 "axis": {"domain": false, "ticks": false, "tickSize": 0, "labelFont": "DejaVu Sans", "labelFontSize": 12, "labelColor": "#1e1e1e", "labelOverlap": false, "labelFlush": false, "gridOpacity": 1, "gridWidth": 1.5},
 "legend": {"labelFont": "DejaVu Sans", "labelFontSize": 12}
}
}
